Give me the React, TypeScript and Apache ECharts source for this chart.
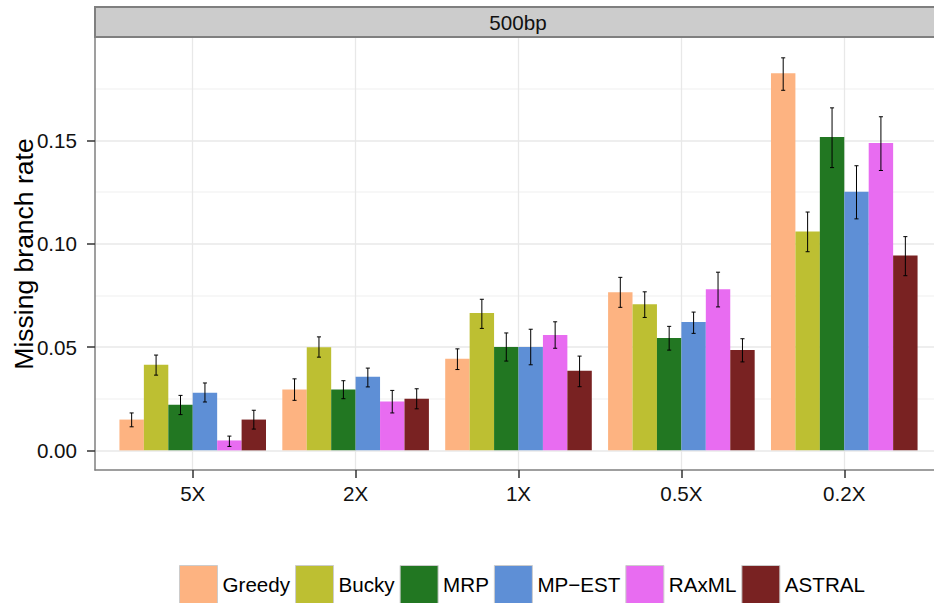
import React, { useEffect, useRef } from "react";
import * as echarts from "echarts";

const categories = ["5X", "2X", "1X", "0.5X", "0.2X"];
const methods = ["Greedy", "Bucky", "MRP", "MP\u2212EST", "RAxML", "ASTRAL"];
const colors = ["#fdb381", "#bdbf32", "#227722", "#5e8fd6", "#e86cf1", "#792222"];

const greedyMean = [0.0149, 0.0294, 0.0443, 0.0765, 0.1825];
const greedyLo = [0.0114, 0.0242, 0.0391, 0.0692, 0.1742];
const greedyHi = [0.0181, 0.0346, 0.0491, 0.0837, 0.1899];

const buckyMean = [0.0414, 0.0499, 0.0664, 0.0707, 0.1059];
const buckyLo = [0.0364, 0.0451, 0.059, 0.0643, 0.0961];
const buckyHi = [0.0461, 0.0549, 0.0731, 0.0767, 0.1153];

const mrpMean = [0.0221, 0.0294, 0.05, 0.0544, 0.1516];
const mrpLo = [0.0173, 0.025, 0.0432, 0.0485, 0.1368];
const mrpHi = [0.0266, 0.0337, 0.0568, 0.06, 0.1657];

const mpestMean = [0.0279, 0.0356, 0.05, 0.0621, 0.1251];
const mpestLo = [0.0234, 0.0307, 0.0414, 0.0566, 0.112];
const mpestHi = [0.0326, 0.0398, 0.0586, 0.0669, 0.1377];

const raxmlMean = [0.0048, 0.0236, 0.0558, 0.0779, 0.1487];
const raxmlLo = [0.0019, 0.0181, 0.0494, 0.0694, 0.1354];
const raxmlHi = [0.0069, 0.029, 0.0622, 0.0862, 0.1614];

const astralMean = [0.0149, 0.025, 0.0385, 0.0486, 0.0943];
const astralLo = [0.0103, 0.0201, 0.0308, 0.0428, 0.0845];
const astralHi = [0.0194, 0.0298, 0.0456, 0.054, 0.1034];

const yTicks = [0, 0.05, 0.1, 0.15];
const stripLabel = "500bp";
const yTitle = "Missing branch rate";

const means = [greedyMean, buckyMean, mrpMean, mpestMean, raxmlMean, astralMean];
const lows = [greedyLo, buckyLo, mrpLo, mpestLo, raxmlLo, astralLo];
const highs = [greedyHi, buckyHi, mrpHi, mpestHi, raxmlHi, astralHi];

const FONT = "'Liberation Sans', Arial, Helvetica, sans-serif";

export default function App() {
  const ref = useRef<HTMLDivElement>(null);
  useEffect(() => {
    if (!ref.current) return;
    const chart = echarts.init(ref.current, undefined, { renderer: "svg" });
    const nM = methods.length;
    const barW = 0.9 / nM;
    const capHalf = 0.0125;

    const series: any[] = methods.map((m, j) => ({
      type: "custom",
      name: m,
      itemStyle: { color: colors[j] },
      encode: { x: 0, y: 1 },
      data: categories.map((c, i) => [i + 1, means[j][i], lows[j][i], highs[j][i]]),
      renderItem: (params: any, api: any) => {
        const xc = api.value(0) + (j - (nM - 1) / 2) * barW;
        const v = api.value(1);
        const lo = api.value(2);
        const hi = api.value(3);
        const p0 = api.coord([xc - barW / 2, v]);
        const p1 = api.coord([xc + barW / 2, 0]);
        const top = api.coord([xc, hi]);
        const bot = api.coord([xc, lo]);
        const cl = api.coord([xc - capHalf, hi])[0];
        const cr = api.coord([xc + capHalf, hi])[0];
        const es = { stroke: "#000", lineWidth: 1 };
        return {
          type: "group",
          children: [
            {
              type: "rect",
              shape: { x: p0[0], y: p0[1], width: p1[0] - p0[0], height: p1[1] - p0[1] },
              style: { fill: colors[j] },
            },
            { type: "line", shape: { x1: top[0], y1: top[1], x2: bot[0], y2: bot[1] }, style: es },
            { type: "line", shape: { x1: cl, y1: top[1], x2: cr, y2: top[1] }, style: es },
            { type: "line", shape: { x1: cl, y1: bot[1], x2: cr, y2: bot[1] }, style: es },
          ],
        };
      },
    }));

    const catValues = categories.map((c, i) => i + 1);

    chart.setOption({
      animation: false,
      backgroundColor: "#ffffff",
      textStyle: { fontFamily: FONT },
      grid: { left: 95, right: -8, top: 38, bottom: 133, containLabel: false, outerBoundsMode: "none" },
      xAxis: {
        type: "value",
        min: 0.4,
        max: 5.6,
        axisLine: { show: true, onZero: false, lineStyle: { color: "#7f7f7f", width: 1.5 } },
        axisTick: { show: true, length: 8, customValues: catValues, lineStyle: { color: "#333", width: 1.5 } },
        axisLabel: {
          show: true,
          customValues: catValues,
          margin: 13,
          fontSize: 20.6,
          color: "#111",
          fontFamily: FONT,
          formatter: (v: number) => categories[Math.round(v) - 1] ?? "",
        },
        splitLine: { show: true, lineStyle: { color: "#e8e8e8", width: 1.3 } },
      },
      yAxis: {
        type: "value",
        min: -0.0095,
        max: 0.1995,
        name: yTitle,
        nameLocation: "middle",
        nameGap: 58,
        nameMoveOverlap: false,
        nameTextStyle: { fontSize: 26.5, color: "#000", fontFamily: FONT },
        axisLine: { show: true, onZero: false, lineStyle: { color: "#7f7f7f", width: 1.5 } },
        axisTick: { show: true, length: 8, customValues: yTicks, lineStyle: { color: "#333", width: 1.5 } },
        axisLabel: {
          show: true,
          customValues: yTicks,
          margin: 18,
          fontSize: 20.6,
          color: "#111",
          fontFamily: FONT,
          formatter: (v: number) => v.toFixed(2),
        },
        splitLine: { show: true, lineStyle: { color: "#e8e8e8", width: 1.5 } },
        minorTick: { show: false, splitNumber: 2 },
        minorSplitLine: { show: true, lineStyle: { color: "#f5f5f5", width: 1.5 } },
      },
      legend: {
        data: methods,
        left: 179,
        top: 565,
        orient: "horizontal",
        icon: "rect",
        itemWidth: 38,
        itemHeight: 38,
        itemGap: 5,
        padding: 0,
        itemStyle: { borderColor: "#cccccc", borderWidth: 1 },
        textStyle: { fontSize: 20.6, color: "#000", fontFamily: FONT },
      },
      graphic: [
        {
          type: "rect",
          shape: { x: 95, y: 7, width: 860, height: 30 },
          style: { fill: "#cccccc", stroke: "#7f7f7f", lineWidth: 2 },
          z: 100,
        },
        {
          type: "text",
          x: 518,
          y: 22,
          style: {
            text: stripLabel,
            fontSize: 20.6,
            fontFamily: FONT,
            fill: "#111",
            align: "center",
            verticalAlign: "middle",
          },
          z: 101,
        },
      ],
      series,
    });
    return () => chart.dispose();
  }, []);
  return <div ref={ref} style={{ position: "fixed", left: 0, top: 0, width: 934, height: 603 }} />;
}
